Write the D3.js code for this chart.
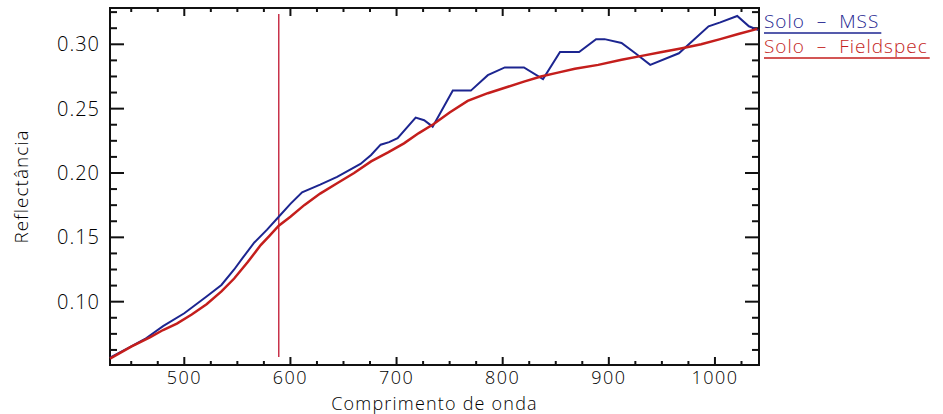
<!DOCTYPE html>
<html lang="pt">
<head>
<meta charset="UTF-8">
<title>Reflectância do solo</title>
<script src="https://d3js.org/d3.v7.min.js"></script>
<style>
  body { margin: 0; background: #fff; }
  text { font-family: "Open Sans", "DejaVu Sans", sans-serif; font-weight: 300; fill: #000; }
</style>
</head>
<body>
<script>
// wavelength (nm) and reflectance
const mssWave = [430, 447, 463, 480, 500, 521, 535, 547, 555, 566, 578, 589, 600, 611, 628, 644, 666, 676, 685, 693, 701, 718, 726, 734, 753, 770, 786, 802, 820, 838, 854, 872, 888, 896, 912, 925, 939, 966, 978, 994, 1005, 1021, 1032, 1041];
const mssRefl = [0.0565, 0.064, 0.071, 0.081, 0.091, 0.104, 0.113, 0.125, 0.134, 0.146, 0.156, 0.166, 0.176, 0.185, 0.191, 0.197, 0.207, 0.214, 0.222, 0.224, 0.227, 0.243, 0.241, 0.236, 0.264, 0.264, 0.276, 0.282, 0.282, 0.273, 0.294, 0.294, 0.304, 0.304, 0.301, 0.293, 0.284, 0.293, 0.302, 0.314, 0.317, 0.322, 0.314, 0.311];

const fsWave = [430, 450, 468, 480, 493, 507, 521, 535, 547, 560, 572, 580, 589, 600, 613, 628, 644, 660, 676, 692, 707, 721, 735, 750, 767, 786, 805, 820, 836, 852, 868, 890, 912, 931, 950, 969, 987, 1005, 1022, 1040];
const fsRefl = [0.0557, 0.065, 0.0725, 0.078, 0.083, 0.090, 0.098, 0.108, 0.118, 0.131, 0.144, 0.151, 0.159, 0.166, 0.175, 0.184, 0.192, 0.200, 0.209, 0.216, 0.223, 0.231, 0.238, 0.247, 0.256, 0.262, 0.267, 0.271, 0.275, 0.278, 0.281, 0.284, 0.288, 0.291, 0.294, 0.297, 0.300, 0.304, 0.308, 0.312];

const markerWave = 589;
const xTicks = [500, 600, 700, 800, 900, 1000];
const yTicks = [0.10, 0.15, 0.20, 0.25, 0.30];
const legendNames = ["Solo  \u2013  MSS", "Solo  \u2013  Fieldspec"];

const width = 943, height = 414;
const margin = { top: 8, right: 184, bottom: 49, left: 110 };
const blue = "#1c2590", red = "#c41e1c";

const svg = d3.select("body").append("svg")
    .attr("width", width)
    .attr("height", height);

const x = d3.scaleLinear().domain([430, 1041.5]).range([margin.left, width - margin.right]);
const y = d3.scaleLinear().domain([0.0508, 0.3282]).range([height - margin.bottom, margin.top]);

const x0 = x.range()[0], x1 = x.range()[1];
const y0 = y.range()[0], y1 = y.range()[1];

// minor ticks every quarter of a major step
const xMinor = d3.range(425, 1042, 25).filter(v => v >= 430 && v % 100 !== 0);
const yMinor = d3.range(0, 27).map(i => 0.05 + i * 0.0125).filter(v => v > 0.0508 && v < 0.3282 && Math.abs(v / 0.05 - Math.round(v / 0.05)) > 1e-6);

const axes = svg.append("g").attr("stroke", "#111").attr("stroke-width", 2);

// frame
axes.append("rect")
    .attr("x", x0).attr("y", y1)
    .attr("width", x1 - x0).attr("height", y0 - y1)
    .attr("fill", "none");

// bottom & top ticks
[[y0, -1], [y1, 1]].forEach(([yy, dir]) => {
  axes.selectAll(null).data(xTicks).enter().append("line")
      .attr("x1", d => x(d)).attr("x2", d => x(d))
      .attr("y1", yy).attr("y2", yy + dir * 8);
  axes.selectAll(null).data(xMinor).enter().append("line")
      .attr("x1", d => x(d)).attr("x2", d => x(d))
      .attr("y1", yy).attr("y2", yy + dir * 4);
});

// left & right ticks
[[x0, 1], [x1, -1]].forEach(([xx, dir]) => {
  axes.selectAll(null).data(yTicks).enter().append("line")
      .attr("y1", d => y(d)).attr("y2", d => y(d))
      .attr("x1", xx).attr("x2", xx + dir * 14);
  axes.selectAll(null).data(yMinor).enter().append("line")
      .attr("y1", d => y(d)).attr("y2", d => y(d))
      .attr("x1", xx).attr("x2", xx + dir * 7);
});

// tick labels
svg.selectAll(".xl").data(xTicks).enter().append("text")
    .attr("class", "xl")
    .attr("x", d => x(d)).attr("y", y0 + 19)
    .attr("text-anchor", "middle")
    .style("font-size", "18px").style("letter-spacing", "1.5px")
    .text(d => d);

svg.selectAll(".yl").data(yTicks).enter().append("text")
    .attr("class", "yl")
    .attr("x", x0 - 10).attr("y", d => y(d) + 7)
    .attr("text-anchor", "end")
    .style("font-size", "20px").style("letter-spacing", "1px")
    .text(d => d.toFixed(2));

// axis titles
svg.append("text")
    .attr("x", (x0 + x1) / 2).attr("y", y0 + 45)
    .attr("text-anchor", "middle")
    .style("font-size", "18px").style("letter-spacing", "1.2px")
    .text("Comprimento de onda");

svg.append("text")
    .attr("transform", `translate(28,${(y0 + y1) / 2}) rotate(-90)`)
    .attr("text-anchor", "middle")
    .style("font-size", "19px").style("letter-spacing", "1px")
    .text("Reflectância");

// vertical marker line
svg.append("line")
    .attr("x1", x(markerWave)).attr("x2", x(markerWave))
    .attr("y1", 14).attr("y2", y0 - 8)
    .attr("stroke", "#c8324a").attr("stroke-width", 1.5);

const line = d3.line().x(d => x(d[0])).y(d => y(d[1]));

svg.append("path")
    .datum(mssWave.map((w, i) => [w, mssRefl[i]]))
    .attr("d", line)
    .attr("fill", "none").attr("stroke", blue).attr("stroke-width", 2);

svg.append("path")
    .datum(fsWave.map((w, i) => [w, fsRefl[i]]))
    .attr("d", line)
    .attr("fill", "none").attr("stroke", red).attr("stroke-width", 2.5);

// legend
const legColors = [blue, red];
const leg = svg.append("g").attr("transform", `translate(${x1 + 5},0)`);
legendNames.forEach((name, i) => {
  const t = leg.append("text")
      .attr("x", 0).attr("y", 28 + i * 25)
      .style("font-size", "19px").style("letter-spacing", "1px")
      .style("fill", legColors[i])
      .attr("xml:space", "preserve")
      .text(name);
  const w = t.node().getComputedTextLength();
  leg.append("line")
      .attr("x1", 0).attr("x2", w + 2)
      .attr("y1", 33 + i * 25).attr("y2", 33 + i * 25)
      .attr("stroke", legColors[i]).attr("stroke-width", 1.5);
});
</script>
</body>
</html>
